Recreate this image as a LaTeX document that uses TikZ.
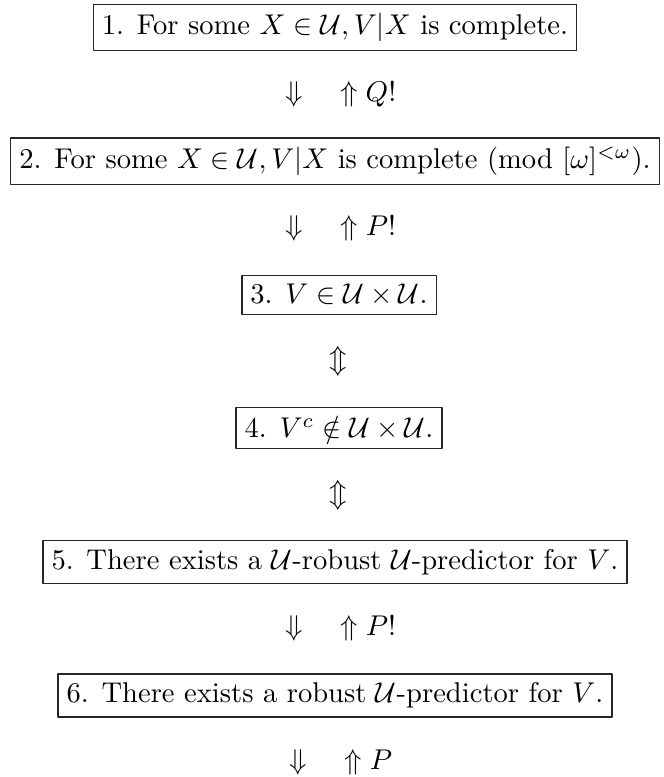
\documentclass[tikz,border=0pt]{standalone}
\usepackage{amsmath, amssymb}
\usetikzlibrary{positioning}
\tikzset{
  every picture/.style={line cap=round, line join=round},
  % boxed statements
  stmt/.style={draw=black!85, line width=0.45pt, inner sep=3pt},
  % implication rows between statements
  impl/.style={inner sep=1pt},
}
\begin{document}
\begin{tikzpicture}[x=0.35pt, y=-0.35pt]
  \useasboundingbox (0,0) rectangle (663,777);
  \node[stmt] (s1) at (335,27.5) {1. For some $X \in \mathcal{U}, V|X$ is complete.};
  \node[impl] (i12) at (341,94.3) {$\Downarrow \hspace{13pt} \Uparrow Q!$};
  \node[stmt] (s2) at (335,161.1) {2. For some $X \in \mathcal{U}, V|X$ is complete (mod $[\omega]^{<\omega}$).};
  \node[impl] (i23) at (341,227.9) {$\Downarrow \hspace{13pt} \Uparrow P!$};
  \node[stmt] (s3) at (339,294.7) {3. $V \in \mathcal{U} \times \mathcal{U}$.};
  \node[impl] (i34) at (338,361.5) {$\Updownarrow$};
  \node[stmt] (s4) at (339,428.3) {4. $V^c \notin \mathcal{U} \times \mathcal{U}$.};
  \node[impl] (i45) at (338,495.1) {$\Updownarrow$};
  \node[stmt] (s5) at (335,561.9) {5. There exists a $\mathcal{U}$-robust $\mathcal{U}$-predictor for $V$.};
  \node[impl] (i56) at (341,628.7) {$\Downarrow \hspace{13pt} \Uparrow P!$};
  \node[stmt] (s6) at (335,695.5) {6. There exists a robust $\mathcal{U}$-predictor for $V$.};
  \node[impl] (i67) at (341,762.3) {$\Downarrow \hspace{13pt} \Uparrow P$};
\end{tikzpicture}
\end{document}
